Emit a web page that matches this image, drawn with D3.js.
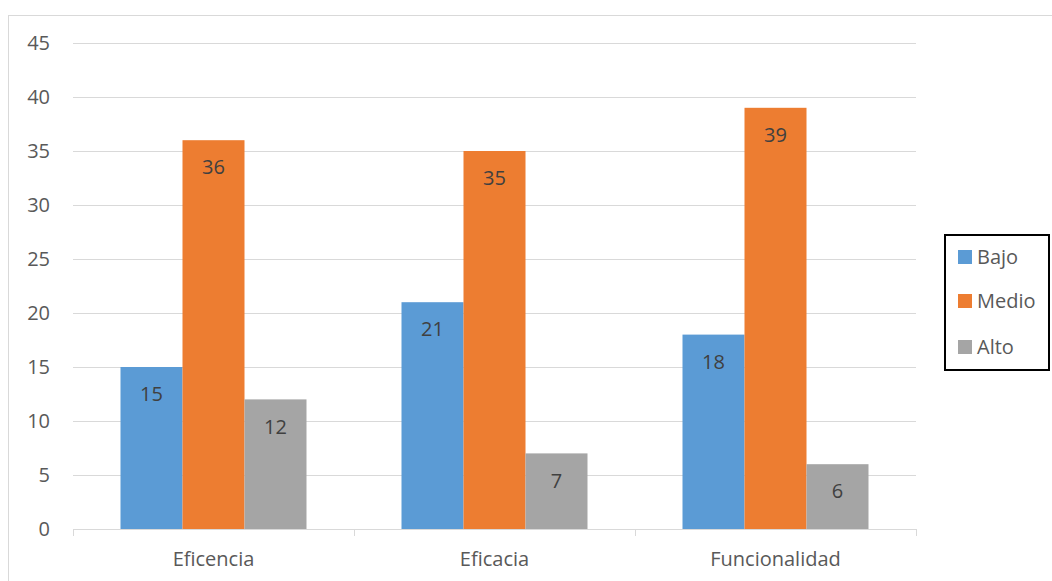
<!DOCTYPE html>
<html><head><meta charset="utf-8">
<script src="https://cdn.jsdelivr.net/npm/d3@7"></script>
<style>body{margin:0;background:#fff;} text{font-family:"Open Sans", sans-serif;}</style>
</head><body>
<svg id="c" width="1052" height="581"></svg>
<script>
const categories = ["Eficencia", "Eficacia", "Funcionalidad"];
const seriesNames = ["Bajo", "Medio", "Alto"];
const bajo = [15, 21, 18];
const medio = [36, 35, 39];
const alto = [12, 7, 6];
const yTicks = [0, 5, 10, 15, 20, 25, 30, 35, 40, 45];
const colors = ["#5B9BD5", "#ED7D31", "#A5A5A5"];
const seriesVals = [bajo, medio, alto];

const svg = d3.select("#c");
// outer chart border
svg.append("rect").attr("x", 8.5).attr("y", 15.5).attr("width", 1100).attr("height", 700)
  .attr("fill", "none").attr("stroke", "#D9D9D9").attr("stroke-width", 1);

const L = 73, R = 916, T = 43, B = 529;
const x0 = d3.scaleBand().domain(categories).range([L, R]).padding(0);
const gap = 95;
const x1 = d3.scaleBand().domain(seriesNames).range([gap/2, x0.bandwidth() - gap/2]).padding(0);
const y = d3.scaleLinear().domain([0, 45]).range([B, T]);

// gridlines
svg.append("g").selectAll("line").data(yTicks.filter(d => d > 0)).join("line")
  .attr("x1", L).attr("x2", R).attr("y1", d => y(d) + 0.5).attr("y2", d => y(d) + 0.5)
  .attr("stroke", "#D9D9D9").attr("stroke-width", 1);

// y labels
svg.append("g").selectAll("text").data(yTicks).join("text")
  .attr("x", 50).attr("y", d => y(d)).attr("dy", "0.36em").attr("text-anchor", "end")
  .attr("font-size", 20).attr("fill", "#595959").text(d => d);

// bars
const g = svg.append("g");
categories.forEach((c, i) => {
  seriesNames.forEach((s, j) => {
    const v = seriesVals[j][i];
    g.append("rect").attr("x", x0(c) + x1(s)).attr("y", y(v))
      .attr("width", x1.bandwidth()).attr("height", y(0) - y(v)).attr("fill", colors[j]);
    g.append("text").attr("x", x0(c) + x1(s) + x1.bandwidth()/2).attr("y", y(v) + 27)
      .attr("dy", "0.36em").attr("text-anchor", "middle").attr("font-size", 20)
      .attr("fill", "#404040").text(v);
  });
});

// x axis
const xa = svg.append("g");
xa.append("line").attr("x1", L).attr("x2", R).attr("y1", B + 0.5).attr("y2", B + 0.5)
  .attr("stroke", "#D9D9D9").attr("stroke-width", 1);
const edges = categories.map(c => x0(c)).concat([R]);
xa.selectAll("line.t").data(edges).join("line").attr("class", "t")
  .attr("x1", d => d + 0.5).attr("x2", d => d + 0.5).attr("y1", B).attr("y2", B + 7)
  .attr("stroke", "#D9D9D9");
xa.selectAll("text").data(categories).join("text")
  .attr("x", d => x0(d) + x0.bandwidth()/2).attr("y", 559).attr("dy", "0.36em")
  .attr("text-anchor", "middle").attr("font-size", 20).attr("fill", "#595959").text(d => d);

// legend
const lg = svg.append("g");
lg.append("rect").attr("x", 945).attr("y", 235).attr("width", 104).attr("height", 135)
  .attr("fill", "#fff").attr("stroke", "#000").attr("stroke-width", 2);
const ly = [257, 301, 347];
seriesNames.forEach((s, j) => {
  lg.append("rect").attr("x", 958).attr("y", ly[j] - 7).attr("width", 14).attr("height", 14).attr("fill", colors[j]);
  lg.append("text").attr("x", 977).attr("y", ly[j]).attr("dy", "0.36em").attr("font-size", 20)
    .attr("fill", "#595959").text(s);
});
</script>
</body></html>
